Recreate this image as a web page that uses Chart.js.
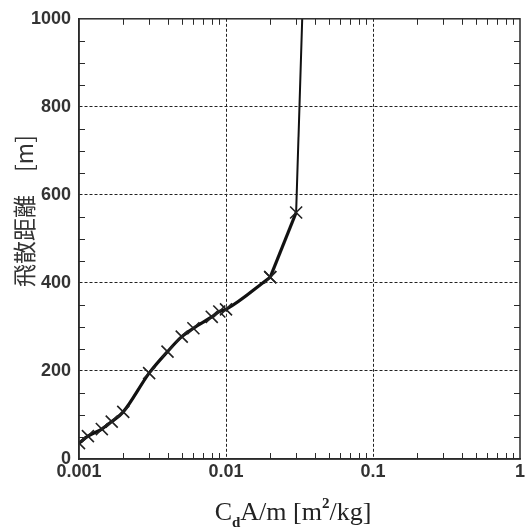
<!DOCTYPE html>
<html>
<head>
<meta charset="utf-8">
<script src="https://cdn.jsdelivr.net/npm/chart.js@4/dist/chart.umd.min.js"></script>
<style>
  html, body { margin: 0; padding: 0; background: #fff; }
  #wrap { width: 525px; height: 530px; }
</style>
</head>
<body>
<div id="wrap"><canvas id="c"></canvas></div>
<script>
// 飛散距離 vs CdA/m
const cdam = [0.001, 0.00115, 0.00143, 0.00167, 0.002, 0.003, 0.004, 0.005, 0.006, 0.008, 0.009, 0.01, 0.02, 0.03, 0.033];
const distance = [36, 52, 68, 85, 107, 195, 244, 278, 297, 323, 335, 340, 413, 560, 1000];

const xTicks = [0.001, 0.01, 0.1, 1];
const xMinor = [0.002, 0.003, 0.004, 0.005, 0.006, 0.007, 0.008, 0.009,
                0.02, 0.03, 0.04, 0.05, 0.06, 0.07, 0.08, 0.09,
                0.2, 0.3, 0.4, 0.5, 0.6, 0.7, 0.8, 0.9];
const yMinor = [50, 100, 150, 250, 300, 350, 450, 500, 550, 650, 700, 750, 850, 900, 950];

const yTitle = '飛散距離　[m]';

const ink = '#2a2a2a';

// curve is smooth up to 0.02, then straight to the top
const splitAt = 12;
const pts = cdam.map((v, i) => ({ x: v, y: distance[i] }));

// frame, inner ticks and axis titles
const frame = {
  id: 'frame',
  afterDraw(chart) {
    const { ctx, chartArea: a, scales: { x, y } } = chart;
    ctx.save();
    ctx.strokeStyle = ink;
    ctx.lineWidth = 1.5;
    ctx.strokeRect(a.left, a.top, a.right - a.left, a.bottom - a.top);

    ctx.lineWidth = 1;
    ctx.beginPath();
    xMinor.forEach(v => {
      const px = Math.round(x.getPixelForValue(v)) + 0.5;
      ctx.moveTo(px, a.bottom); ctx.lineTo(px, a.bottom - 6);
      ctx.moveTo(px, a.top); ctx.lineTo(px, a.top + 6);
    });
    yMinor.forEach(v => {
      const py = Math.round(y.getPixelForValue(v)) + 0.5;
      ctx.moveTo(a.left, py); ctx.lineTo(a.left + 6, py);
      ctx.moveTo(a.right, py); ctx.lineTo(a.right - 6, py);
    });
    ctx.stroke();

    // y title
    ctx.fillStyle = '#333';
    ctx.save();
    ctx.translate(24, 211);
    ctx.rotate(-Math.PI / 2);
    ctx.font = '23px "Noto Sans CJK JP"';
    ctx.textAlign = 'center';
    ctx.textBaseline = 'middle';
    ctx.fillText(yTitle, 0, 0);
    ctx.restore();

    // x title: C_d A/m [m^2/kg]
    const big = '26px "Liberation Serif"';
    const small = 'bold 15px "Liberation Serif"';
    const parts = [
      { t: 'C', f: big, dy: 0 },
      { t: 'd', f: small, dy: 7 },
      { t: 'A/m [m', f: big, dy: 0 },
      { t: '2', f: small, dy: -12 },
      { t: '/kg]', f: big, dy: 0 }
    ];
    let w = 0;
    parts.forEach(p => { ctx.font = p.f; p.w = ctx.measureText(p.t).width; w += p.w; });
    let cx = 293 - w / 2;
    const base = 520;
    ctx.textAlign = 'left';
    ctx.textBaseline = 'alphabetic';
    ctx.fillStyle = '#222';
    parts.forEach(p => {
      ctx.font = p.f;
      ctx.fillText(p.t, cx, base + p.dy);
      cx += p.w;
    });
    ctx.restore();
  }
};

new Chart(document.getElementById('c'), {
  type: 'line',
  data: {
    datasets: [{
      data: pts.slice(0, splitAt + 1),
      borderColor: '#111',
      borderWidth: 3.2,
      cubicInterpolationMode: 'monotone',
      pointStyle: 'crossRot',
      pointRadius: 8.5,
      pointBorderWidth: 1.6,
      pointBorderColor: '#222'
    }, {
      data: pts.slice(splitAt),
      borderColor: '#111',
      tension: 0,
      pointStyle: 'crossRot',
      pointRadius: pts.slice(splitAt).map((p, i, arr) => i === arr.length - 1 ? 0 : 8.5),
      pointBorderWidth: 1.6,
      pointBorderColor: '#222',
      segment: {
        borderWidth: c => c.p1DataIndex === 2 ? 2 : 3.2
      }
    }]
  },
  plugins: [frame],
  options: {
    responsive: true,
    maintainAspectRatio: false,
    animation: false,
    layout: { autoPadding: false, padding: { top: 18, right: 5, left: 0, bottom: 0 } },
    plugins: {
      legend: { display: false },
      tooltip: { enabled: false }
    },
    scales: {
      x: {
        type: 'logarithmic',
        min: 0.001,
        max: 1,
        afterBuildTicks: s => { s.ticks = xTicks.map(v => ({ value: v })); },
        afterFit: s => { s.height = 71; s.paddingRight = 0; s.paddingLeft = 0; },
        ticks: {
          callback: v => String(v),
          autoSkip: false,
          maxRotation: 0,
          padding: 2,
          color: '#333',
          font: { family: '"Liberation Sans", Arial', size: 18, weight: 'bold' }
        },
        grid: {
          drawTicks: false,
          color: c => (c.index === 0 || c.index === xTicks.length - 1) ? 'rgba(0,0,0,0)' : '#222',
          lineWidth: 1
        },
        border: { display: true, color: ink, width: 1.5, dash: [3, 2] }
      },
      y: {
        min: 0,
        max: 1000,
        afterFit: s => { s.width = 79; },
        ticks: {
          stepSize: 200,
          padding: 8,
          callback: v => String(v),
          color: '#333',
          font: { family: '"Liberation Sans", Arial', size: 18, weight: 'bold' }
        },
        grid: {
          drawTicks: false,
          color: c => (c.tick.value === 0 || c.tick.value === 1000) ? 'rgba(0,0,0,0)' : '#222',
          lineWidth: 1
        },
        border: { display: true, color: ink, width: 1.5, dash: [3, 2] }
      }
    }
  }
});
</script>
</body>
</html>
